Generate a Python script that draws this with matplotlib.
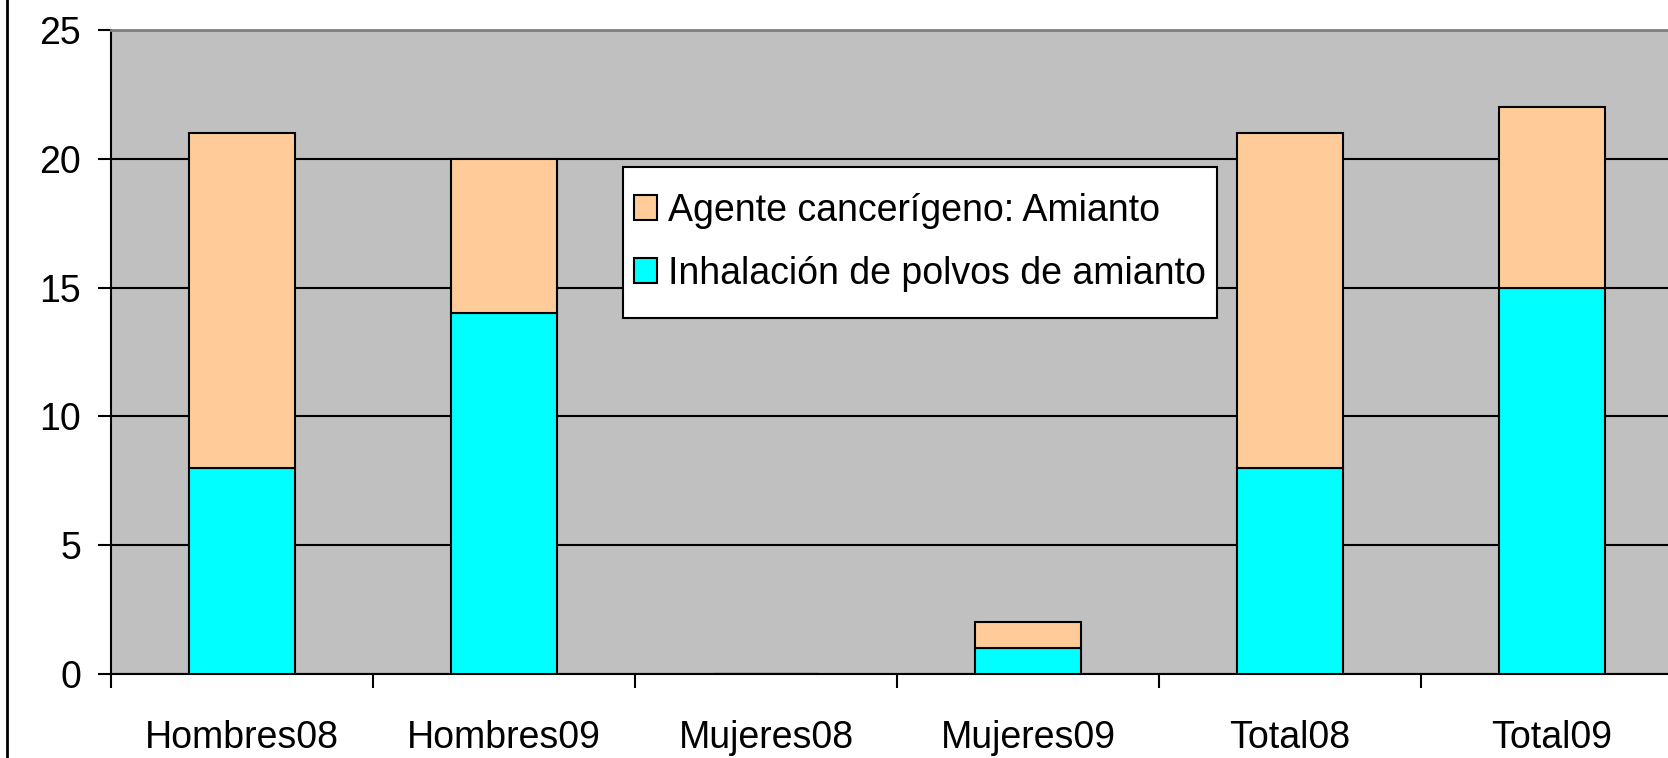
import numpy as np
import matplotlib
matplotlib.use("Agg")
import matplotlib.pyplot as plt
from matplotlib.lines import Line2D
from matplotlib.patches import Rectangle

plt.rcParams['font.family'] = ['Liberation Sans', 'DejaVu Sans']

categories = ["Hombres08", "Hombres09", "Mujeres08", "Mujeres09", "Total08", "Total09"]
inhalacion = [8, 14, 0, 1, 8, 15]
agente = [13, 6, 0, 1, 13, 7]
yticks = [0, 5, 10, 15, 20, 25]

fig = plt.figure(figsize=(16.68, 7.58), dpi=100)
# plot area runs past the right edge, like the source picture
ax = fig.add_axes([111 / 1668, 1 - 674 / 758, 1572 / 1668, 644 / 758])
ax.set_facecolor("#C0C0C0")

x = np.arange(len(categories))
w = 0.405
ax.bar(x, inhalacion, w, color="#00FFFF", edgecolor="black", linewidth=1.5,
       label="Inhalación de polvos de amianto", zorder=3)
ax.bar(x, agente, w, bottom=inhalacion, color="#FFCC99", edgecolor="black", linewidth=1.5,
       label="Agente cancerígeno: Amianto", zorder=3)

ax.set_xlim(-0.5, len(categories) - 0.5)
ax.set_ylim(0, 25)
ax.set_yticks(yticks)
ax.yaxis.grid(True, color="black", linewidth=1.5, zorder=1)
ax.set_axisbelow(True)

ax.set_xticks(x)
ax.set_xticklabels(categories)
ax.set_xticks(np.arange(len(categories) + 1) - 0.5, minor=True)
ax.tick_params(axis="x", which="major", length=0, pad=33, labelsize=27)
ax.tick_params(axis="x", which="minor", length=10, width=1.5, direction="out")
ax.tick_params(axis="y", length=9.5, width=1.5, pad=12, labelsize=27)

ax.spines["right"].set_visible(False)
ax.spines["top"].set_color("#808080")
ax.spines["top"].set_linewidth(2)
ax.spines["left"].set_linewidth(1.5)
ax.spines["bottom"].set_linewidth(1.5)

# legend box: 623..1209 x 167..318 px in the source
h, l = ax.get_legend_handles_labels()
leg = fig.legend(h[::-1], l[::-1], loc="center left", bbox_to_anchor=(623 / 1668, 1 - 242.5 / 758),
                 fontsize=27, frameon=False,
                 handlelength=0.6, handleheight=0.65, handletextpad=0.3, borderpad=0.3,
                 labelspacing=0.72, borderaxespad=0)
fig.canvas.draw()
bb = leg.get_window_extent().transformed(fig.transFigure.inverted())
top = 1 - 167 / 758
bot = 1 - 318 / 758
fig.add_artist(Rectangle((bb.x0, bot), bb.width, top - bot, transform=fig.transFigure,
                         facecolor="white", edgecolor="black", linewidth=1.5, zorder=4))
leg.set_zorder(5)

# chart border on the left
fig.add_artist(Line2D([7 / 1668, 7 / 1668], [0, 1], color="black", linewidth=2, transform=fig.transFigure))

fig.savefig("out.png", dpi=100)
